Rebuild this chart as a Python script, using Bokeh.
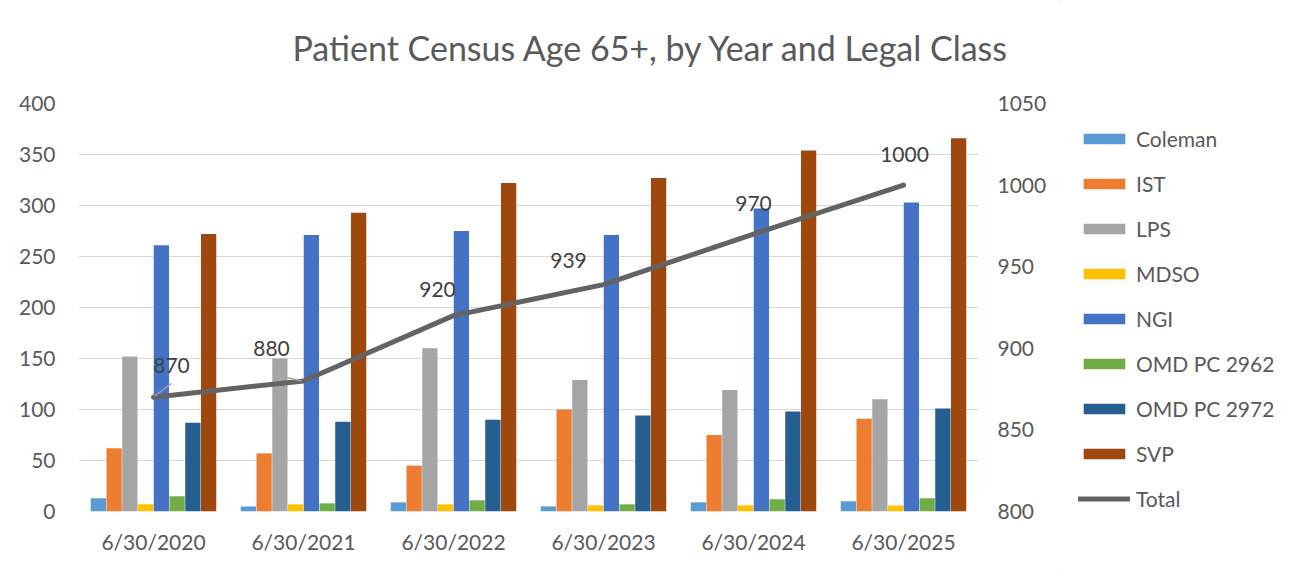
import numpy as np
from bokeh.plotting import figure
from bokeh.layouts import row
from bokeh.models import (Range1d, LinearAxis, FixedTicker, Legend, LegendItem,
                          ColumnDataSource, LabelSet, Title)
from bokeh.core.properties import value
from bokeh.embed import file_html
from bokeh.resources import INLINE

# ---------------- data ----------------
dates = ["6/30/2020", "6/30/2021", "6/30/2022", "6/30/2023", "6/30/2024", "6/30/2025"]
series_names = ["Coleman", "IST", "LPS", "MDSO", "NGI", "OMD PC 2962", "OMD PC 2972", "SVP"]
coleman = [13, 5, 9, 5, 9, 10]
ist = [62, 57, 45, 100, 75, 91]
lps = [152, 150, 160, 129, 119, 110]
mdso = [7, 7, 7, 6, 6, 6]
ngi = [261, 271, 275, 271, 297, 303]
omd_2962 = [15, 8, 11, 7, 12, 13]
omd_2972 = [87, 88, 90, 94, 98, 101]
svp = [272, 293, 322, 327, 354, 366]
total = [870, 880, 920, 939, 970, 1000]
left_ticks = [0, 50, 100, 150, 200, 250, 300, 350, 400]
right_ticks = [800, 850, 900, 950, 1000, 1050]

# ---------------- styles ----------------
colors = ["#5B9BD5", "#ED7D31", "#A5A5A5", "#FFC000", "#4472C4", "#70AD47", "#255E91", "#9E480E"]
LINE_COLOR = "#636363"
FONT = "Lato"
TXT = "#595959"
H = 573
W1, W2 = 1060, 237
ML, MR, MT, MB = 78, 82, 103, 62
FW, FH = W1 - ML - MR, H - MT - MB
BAR_W = 0.105
# label offsets (pixels) for the Total data labels
lab_dx = [18, -32, -16, -35, 0, 1]
lab_dy = [32, 32, 26, 24, 31, 31]

series = [coleman, ist, lps, mdso, ngi, omd_2962, omd_2972, svp]
idx = np.arange(len(dates))

p = figure(width=W1, height=H, output_backend="svg", toolbar_location=None,
           x_range=Range1d(-0.5, len(dates) - 0.5), y_range=Range1d(0, 400),
           min_border_left=ML, min_border_right=MR, min_border_top=MT, min_border_bottom=MB,
           title="Patient Census Age 65+, by Year and Legal Class")
p.extra_y_ranges = {"total": Range1d(800, 1050)}
p.outline_line_color = None
p.background_fill_color = "white"
p.border_fill_color = "white"

p.title.text_font = FONT
p.title.text_font_size = "34px"
p.title.text_font_style = "normal"
p.title.text_color = TXT
p.title.align = "left"
p.title.offset = 214
p.title.standoff = 10
# empty spacer between title and plot area
p.add_layout(Title(text=" ", text_font_size="10px", standoff=18), "above")

# grid
p.xgrid.visible = False
p.ygrid.grid_line_color = "#D9D9D9"
p.ygrid.grid_line_width = 1
p.ygrid.ticker = FixedTicker(ticks=left_ticks)

# axes
def style_axis(ax, standoff):
    ax.axis_line_color = None
    ax.major_tick_line_color = None
    ax.minor_tick_line_color = None
    ax.major_label_text_font = FONT
    ax.major_label_text_font_size = "21px"
    ax.major_label_text_color = TXT
    ax.major_label_standoff = standoff

p.yaxis.ticker = FixedTicker(ticks=left_ticks)
style_axis(p.yaxis[0], 17)
p.xaxis.ticker = FixedTicker(ticks=list(idx))
p.xaxis.major_label_overrides = {int(i): d for i, d in zip(idx, dates)}
style_axis(p.xaxis[0], 11)

raxis = LinearAxis(y_range_name="total", ticker=FixedTicker(ticks=right_ticks))
style_axis(raxis, 13)
p.add_layout(raxis, "right")

# bars
n = len(series)
for k, (name, vals, col) in enumerate(zip(series_names, series, colors)):
    off = (k - (n - 1) / 2) * BAR_W
    p.vbar(x=idx + off, top=vals, bottom=0, width=BAR_W * 0.97, fill_color=col, line_color=None)

# total line
p.line(x=idx, y=total, y_range_name="total", line_width=5, line_color=LINE_COLOR,
       line_join="round", line_cap="round")

# leader lines (pixel offsets converted through the scales)
px_x = (len(dates)) / FW
px_y = (1050 - 800) / FH
leaders = [(0, (1, 1, 18, 14)), (1, (-31, 7, -2, 0))]
for i, (ax0, ay0, ax1, ay1) in leaders:
    p.segment(x0=[idx[i] + ax0 * px_x], y0=[total[i] + ay0 * px_y],
              x1=[idx[i] + ax1 * px_x], y1=[total[i] + ay1 * px_y],
              y_range_name="total", line_color="#A6A6A6", line_width=1.5)

src = ColumnDataSource(dict(x=idx, y=total, text=[str(t) for t in total], xo=lab_dx, yo=lab_dy))
labels = LabelSet(x="x", y="y", text="text", x_offset="xo", y_offset="yo", source=src,
                  y_range_name="total", text_align="center", text_baseline="middle",
                  text_font=value(FONT), text_font_size="21px", text_color="#404040")
p.add_layout(labels)

# ---------------- legend panel ----------------
q = figure(width=W2, height=H, output_backend="svg", toolbar_location=None,
           x_range=Range1d(0, 1), y_range=Range1d(0, 1),
           x_axis_location=None, y_axis_location=None,
           min_border_left=0, min_border_right=0, min_border_top=0, min_border_bottom=0)
q.grid.visible = False
q.outline_line_color = None
q.background_fill_color = "white"
q.border_fill_color = "white"

items = []
for name, col in zip(series_names, colors):
    # a single off-range mark so the legend swatch carries the series style
    r = q.vbar(x=[5], top=[1], width=0.1, fill_color=col, line_color=None)
    items.append(LegendItem(label=name, renderers=[r]))
lr = q.line(x=[5, 6], y=[0, 0], line_width=5, line_color=LINE_COLOR, line_cap="round")
items.append(LegendItem(label="Total", renderers=[lr]))

legend = Legend(items=items, location=(18, 0), orientation="vertical",
                border_line_color=None, background_fill_alpha=0,
                label_text_font=FONT, label_text_font_size="21px", label_text_color=TXT,
                glyph_width=52, glyph_height=13, label_height=20, label_standoff=6,
                spacing=20, padding=0, margin=0)
q.add_layout(legend, "center")

layout = row(p, q, spacing=0)
layout.styles = {"outline": "1px solid #D9D9D9", "outline-offset": "-2px"}

open("out.html", "w").write(file_html(layout, INLINE))
